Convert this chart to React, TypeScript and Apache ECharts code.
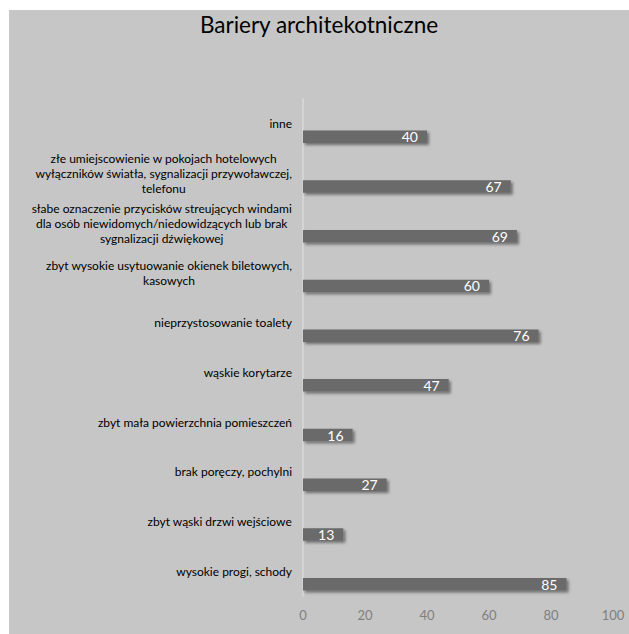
import React, { useEffect, useRef } from "react";
import * as echarts from "echarts";

const TITLE = "Bariery architekotniczne";
const categories: string[] = [
  "inne",
  "złe umiejscowienie w pokojach hotelowych\nwyłączników światła, sygnalizacji przywoławczej,\ntelefonu",
  "słabe oznaczenie przycisków streujących windami\ndla osób niewidomych/niedowidzących lub brak\nsygnalizacji dźwiękowej",
  "zbyt wysokie usytuowanie okienek biletowych,\nkasowych",
  "nieprzystosowanie toalety",
  "wąskie korytarze",
  "zbyt mała powierzchnia pomieszczeń",
  "brak poręczy, pochylni",
  "zbyt wąski drzwi wejściowe",
  "wysokie progi, schody",
];
const values: number[] = [40, 67, 69, 60, 76, 47, 16, 27, 13, 85];
const xTicks = { min: 0, max: 100, interval: 20 };

const FONT = "Lato";

export default function App() {
  const ref = useRef<HTMLDivElement>(null);
  useEffect(() => {
    if (!ref.current) return;
    const chart = echarts.init(ref.current, undefined, { renderer: "svg" });
    chart.setOption({
      animation: false,
      backgroundColor: "#c6c6c6",
      textStyle: { fontFamily: FONT },
      title: {
        text: TITLE,
        left: "center",
        top: 3,
        padding: 0,
        textStyle: { fontFamily: FONT, fontSize: 22.5, fontWeight: "normal", color: "#000" },
      },
      grid: { left: 294, right: 16, top: 89, bottom: 38, containLabel: false },
      xAxis: {
        type: "value",
        min: xTicks.min,
        max: xTicks.max,
        interval: xTicks.interval,
        splitLine: { show: false },
        axisLine: { show: false },
        axisTick: { show: false },
        axisLabel: { color: "#7f7f7f", fontSize: 13, margin: 12, fontFamily: FONT },
      },
      yAxis: {
        type: "category",
        inverse: true,
        data: categories,
        axisLine: { show: true, lineStyle: { color: "#d4d4d4", width: 2 } },
        axisTick: { show: false },
        axisLabel: {
          margin: 11,
          align: "right",
          fontSize: 12,
          color: "#000",
          fontFamily: FONT,
          lineHeight: 15,
          formatter: (v: string) =>
            v
              .split("\n")
              .map((l) => `{c|${l}}`)
              .join("\n"),
          rich: { c: { align: "center", fontSize: 12, lineHeight: 15, color: "#000", fontFamily: FONT } },
        },
      },
      series: [
        {
          type: "bar",
          name: "spacer",
          data: values.map(() => "-"),
          barWidth: 12.5,
          barGap: "108%",
          silent: true,
        },
        {
          type: "bar",
          name: "Bariery",
          data: values,
          barWidth: 12.5,
          barGap: "108%",
          itemStyle: {
            color: "#6a6a6a",
            shadowColor: "rgba(0,0,0,0.45)",
            shadowBlur: 3,
            shadowOffsetX: 2,
            shadowOffsetY: 2,
          },
          label: {
            show: true,
            position: "insideRight",
            distance: 9,
            color: "#fff",
            fontSize: 14,
            fontFamily: FONT,
          },
        },
      ],
    });
    return () => chart.dispose();
  }, []);
  return (
    <div style={{ position: "absolute", left: 0, top: 0, width: 629, height: 634, background: "#fff" }}>
      <div ref={ref} style={{ position: "absolute", left: 9, top: 10, width: 620, height: 624 }} />
    </div>
  );
}
